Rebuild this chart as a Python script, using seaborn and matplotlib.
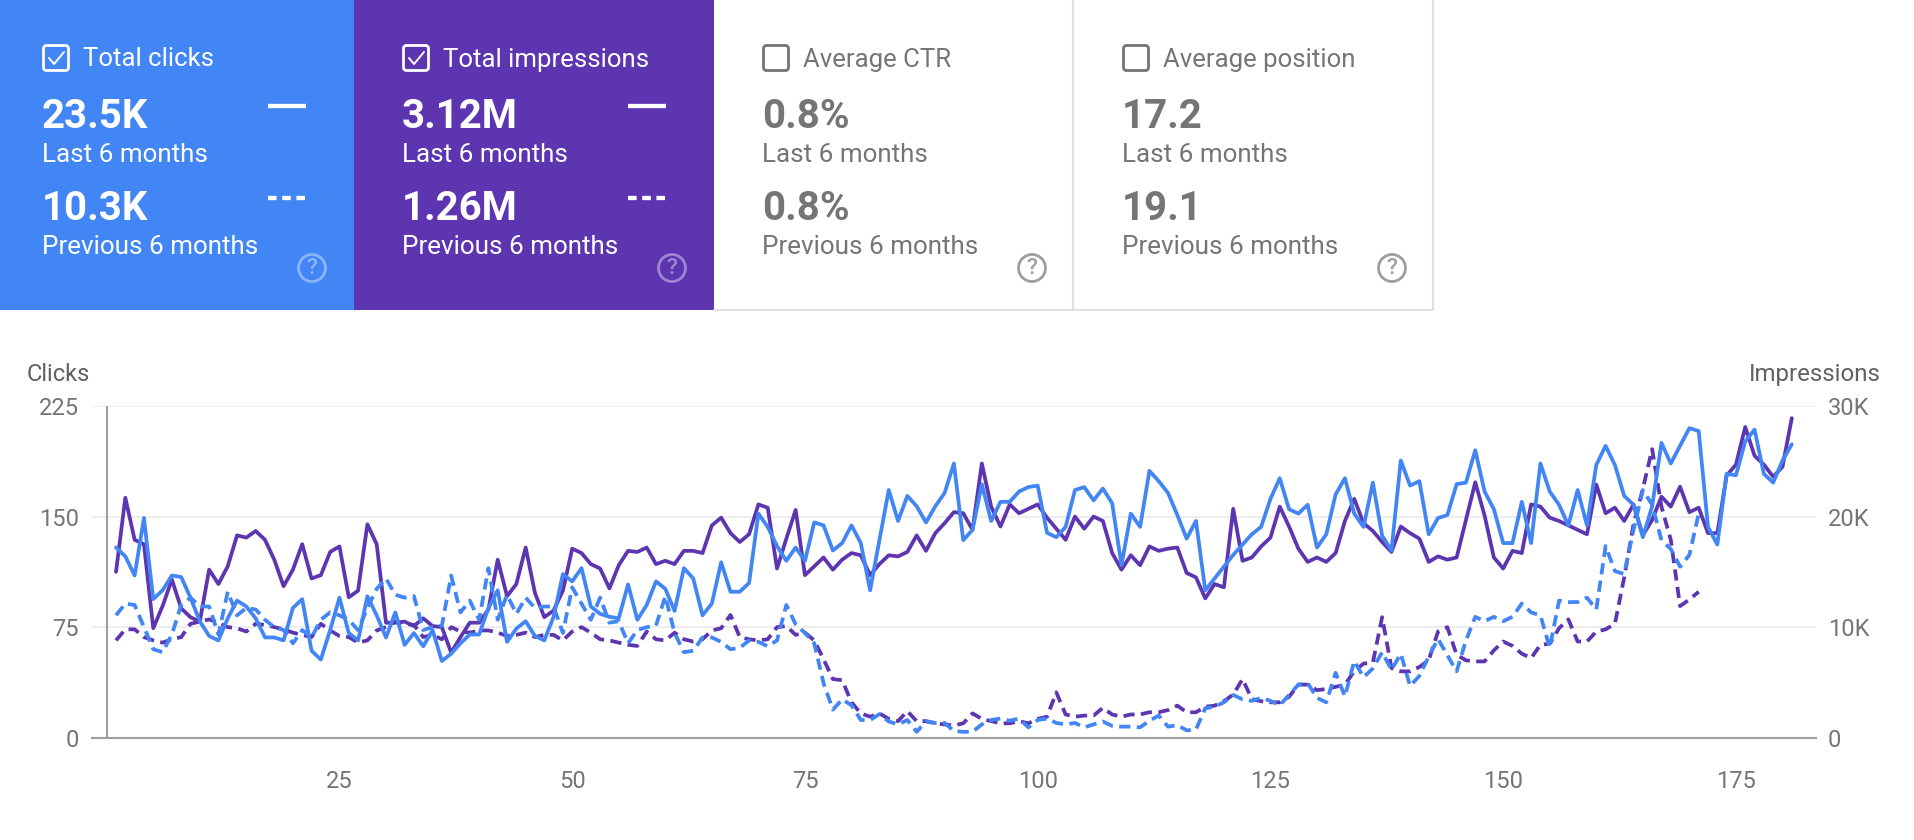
import numpy as np
import seaborn as sns
import matplotlib.pyplot as plt
from matplotlib.patches import Rectangle, FancyBboxPatch, Circle

# Daily clicks, last 6 months
clicks_last = [129,123,110,149,94,100,110,109,95,79,
    69,66,81,93,89,81,68,68,66,88,
    94,59,53,73,95,71,66,96,83,68,
    85,63,71,62,73,52,57,64,70,70,
    88,100,65,74,79,69,66,82,111,106,
    115,89,84,82,81,104,80,90,106,101,
    86,115,108,83,91,119,99,99,105,152,
    143,130,120,129,120,146,144,127,132,144,
    132,100,134,168,147,164,157,146,157,166,
    186,134,141,172,147,160,160,167,170,171,
    139,136,143,168,170,161,169,159,117,152,
    143,181,174,166,151,135,147,100,108,116,
    124,131,138,143,162,176,155,152,158,129,
    138,165,176,152,143,173,137,127,188,171,
    174,138,149,151,172,173,195,167,155,132,
    132,160,132,186,167,158,144,168,144,185,
    198,185,164,158,136,157,200,186,198,210,
    208,143,131,179,178,201,209,179,173,188,199]

# Daily clicks, previous 6 months
clicks_prev = [83,91,90,75,60,58,70,90,95,89,
    89,70,99,83,88,87,80,75,73,64,
    73,68,80,85,83,80,73,88,101,108,
    97,95,96,73,75,76,110,85,93,80,
    115,80,97,84,95,88,89,89,71,102,
    91,80,95,78,79,64,73,75,76,96,
    71,58,59,68,68,65,60,61,66,65,
    62,66,90,77,71,64,37,19,26,22,
    12,12,16,11,9,12,4,11,10,10,
    4.5,4,4,9,12,13,11.5,13,7,12,
    13,10,9,10,7,9,11,8,7.5,7.5,
    7,11.5,15,7.5,8.5,5,5.5,20,21,24,
    29,26,25,27,25,22,29,36,37,27,
    24,44,28,52,41,47,58,46,57,35,
    42,55,67,56,45,66,82,79,82,79,
    82,91,85,83,61,93,92,92,95,87,
    130,113,111,141,168,158,134,128,116,124,152]

# Daily impressions in thousands, last 6 months
impressions_last = [15.0,21.7,17.9,17.5,9.9,11.9,14.3,11.7,10.9,10.5,
    15.2,13.9,15.5,18.3,18.1,18.7,17.9,16.1,13.7,15.2,
    17.5,14.4,14.7,16.8,17.3,12.7,13.3,19.3,17.5,10.4,
    10.4,10.5,10.1,10.8,10.1,10.0,7.7,9.1,10.4,10.4,
    11.6,16.1,12.8,13.9,17.2,13.1,10.9,11.5,13.3,17.1,
    16.7,15.7,15.3,13.5,15.6,16.9,16.8,17.2,15.7,16.0,
    15.7,16.9,16.9,16.7,19.2,19.9,18.5,17.7,18.4,21.1,
    20.8,15.3,18.0,20.6,14.7,15.5,16.3,15.2,16.1,16.7,
    16.5,14.7,15.7,16.5,16.4,16.8,18.3,16.9,18.5,19.4,
    20.4,20.3,18.8,24.8,20.9,19.1,21.1,20.3,20.7,21.1,
    19.9,18.9,17.9,20.0,18.9,20.0,19.6,16.7,15.2,16.5,
    15.6,17.3,16.9,17.1,17.2,14.9,14.5,12.6,13.9,13.6,
    20.7,16.0,16.3,17.3,18.1,20.9,19.1,17.1,15.9,16.3,
    15.9,16.7,19.6,21.6,19.4,18.7,17.7,16.8,19.1,18.5,
    18.0,15.9,16.4,16.1,16.3,19.7,23.1,20.1,16.3,15.3,
    16.9,16.7,21.1,20.9,19.9,19.6,19.2,18.8,18.4,22.9,
    20.3,20.8,19.6,21.1,18.3,19.7,21.8,20.9,22.7,20.4,
    20.8,18.5,18.5,23.7,24.7,28.1,25.5,24.7,23.6,24.5,28.9]

# Daily impressions in thousands, previous 6 months
impressions_prev = [8.8,9.8,9.8,9.1,8.8,8.6,8.9,9.1,10.3,10.5,
    10.7,10.4,10.0,9.9,9.6,10.3,10.2,10.0,9.8,9.5,
    9.3,9.1,10.3,9.7,9.2,9.1,8.6,8.8,9.7,10.0,
    10.5,10.3,10.2,9.1,9.3,8.9,10.0,9.6,9.5,9.7,
    9.7,9.5,9.2,9.3,9.5,9.1,9.3,9.3,8.8,9.6,
    10.0,9.5,8.9,8.8,8.6,8.4,8.3,9.6,8.9,8.8,
    9.5,8.9,8.7,8.9,9.7,9.9,11.1,9.1,8.9,8.8,
    8.9,10.0,10.1,9.3,9.5,8.8,7.1,5.3,5.2,3.2,
    2.2,1.9,2.2,1.7,1.5,2.4,1.5,1.5,1.3,1.2,
    1.1,1.3,2.2,1.7,1.5,1.3,1.3,1.5,1.3,1.7,
    1.9,4.1,2.1,1.9,2.0,2.0,2.7,2.1,1.9,2.1,
    2.1,2.3,2.3,2.5,2.9,2.3,2.3,2.8,2.9,3.3,
    3.9,5.3,3.5,3.3,3.2,3.2,3.7,4.8,4.8,4.3,
    4.4,4.6,4.8,6.0,6.7,6.8,10.9,6.3,6.0,6.0,
    6.4,7.0,9.6,10.0,7.5,7.0,6.9,6.9,7.9,8.7,
    8.3,7.6,7.2,8.4,8.5,9.9,10.7,8.7,8.7,9.6,
    9.8,10.3,14.5,19.3,22.5,26.1,20.9,17.9,11.9,12.5,13.2]

card_titles = ['Total clicks', 'Total impressions', 'Average CTR', 'Average position']
card_last = ['23.5K', '3.12M', '0.8%', '17.2']
card_prev = ['10.3K', '1.26M', '0.8%', '19.1']
clicks_ticks = [0, 75, 150, 225]
impressions_ticks = [0, 10, 20, 30]
impressions_labels = ['0', '10K', '20K', '30K']
day_ticks = [25, 50, 75, 100, 125, 150, 175]

BLUE = '#4285f4'
PURPLE = '#5e35b1'
GREY = '#757575'
W, H = 1914, 840

sns.set_theme(style='white')
plt.rcParams['font.family'] = ['Roboto', 'DejaVu Sans']

fig = plt.figure(figsize=(W / 100, H / 100), dpi=100, facecolor='white')

# Overlay in pixel coordinates for the summary cards
bg = fig.add_axes([0, 0, 1, 1])
bg.set_xlim(0, W)
bg.set_ylim(H, 0)
bg.axis('off')

edges = [0, 354, 714, 1073, 1433]
fills = [BLUE, PURPLE, 'white', 'white']
for i, title in enumerate(card_titles):
    active = i < 2
    fg = 'white' if active else GREY
    left = 42 + 360 * i if i < 3 else 1122
    bg.add_patch(Rectangle((edges[i], 0), edges[i + 1] - edges[i], 310, color=fills[i], lw=0))

    # checkbox
    bg.add_patch(FancyBboxPatch((left + 1.5, 45.5), 25, 25, boxstyle='round,pad=0,rounding_size=3',
                                fc='none', ec=fg, lw=2.0))
    if active:
        bg.plot([left + 7, left + 12, left + 22], [58, 64, 52], color=fg, lw=1.4)

    bg.text(left + 41, 59.5, title, color=fg, fontsize=18.5, va='center', ha='left')
    bg.text(left, 117, card_last[i], color=fg, fontsize=29, fontweight='bold', va='center', ha='left')
    bg.text(left, 155.5, 'Last 6 months', color=fg, fontsize=18.7, va='center', ha='left')
    bg.text(left, 209, card_prev[i], color=fg, fontsize=29, fontweight='bold', va='center', ha='left')
    bg.text(left, 247.5, 'Previous 6 months', color=fg, fontsize=18.7, va='center', ha='left')

    # series key
    if active:
        bg.plot([left + 226, left + 264], [106, 106], color='white', lw=3.1, solid_capstyle='butt')
        bg.plot([left + 226, left + 263], [198, 198], color='white', lw=3.1,
                linestyle=(0, (2.0, 1.3)), dash_capstyle='butt')

    # help icon
    cx = left + 270
    icon = (1, 1, 1, 0.4) if active else '#9e9e9e'
    bg.add_patch(Circle((cx, 268), 13.5, fc='none', ec=icon, lw=2.0))
    bg.text(cx, 268, '?', color=icon, fontsize=16, fontweight='medium', ha='center', va='center')

# card borders
bg.plot([714, 1433], [309.5, 309.5], color='#e0e0e0', lw=1.5)
bg.plot([1073, 1073], [0, 309.5], color='#e0e0e0', lw=1.5)
bg.plot([1433, 1433], [0, 309.5], color='#e0e0e0', lw=1.5)

# Chart: impressions go underneath, clicks on the twin axes on top
ax_imp = fig.add_axes([92 / W, 1 - 737.7 / H, (1816 - 92) / W, (737.7 - 406) / H])
ax_imp.patch.set_alpha(0)
ax_clicks = ax_imp.twinx()

days = np.arange(1, len(clicks_last) + 1)
days_prev = np.arange(1, len(clicks_prev) + 1)
dash = (0, (3, 1.7))

sns.lineplot(x=days_prev, y=impressions_prev, ax=ax_imp, color=PURPLE, lw=2.7, linestyle=dash, errorbar=None)
sns.lineplot(x=days, y=impressions_last, ax=ax_imp, color=PURPLE, lw=2.7, errorbar=None)
sns.lineplot(x=days_prev, y=clicks_prev, ax=ax_clicks, color=BLUE, lw=2.7, linestyle=dash, errorbar=None)
sns.lineplot(x=days, y=clicks_last, ax=ax_clicks, color=BLUE, lw=2.7, errorbar=None)

xlim = (-1.58, 183.6)
ax_imp.set_xlim(xlim)
ax_clicks.set_xlim(xlim)
ax_imp.set_ylim(0, 30)
ax_clicks.set_ylim(0, 225)

ax_imp.yaxis.tick_right()
ax_imp.set_yticks(impressions_ticks)
ax_imp.set_yticklabels(impressions_labels)
ax_clicks.yaxis.tick_left()
ax_clicks.set_yticks(clicks_ticks)
ax_imp.set_xticks(day_ticks)
ax_imp.grid(axis='y', color='#eeeeee', lw=1.5)
ax_imp.set_axisbelow(True)
ax_clicks.grid(False)

ax_imp.tick_params(axis='y', length=0, pad=8.5, labelsize=17, labelcolor=GREY, labelright=True, labelleft=False)
ax_clicks.tick_params(axis='y', length=0, pad=9.5, labelsize=17, labelcolor=GREY, labelleft=True, labelright=False)
ax_imp.tick_params(axis='x', length=0, pad=23, labelsize=17, labelcolor=GREY)
ax_clicks.tick_params(axis='x', length=0, labelbottom=False)

for axis in (ax_imp, ax_clicks):
    axis.set_xlabel('')
    axis.set_ylabel('')
    for side in ('top', 'left', 'right', 'bottom'):
        axis.spines[side].set_visible(False)
ax_imp.spines['bottom'].set_visible(True)
ax_imp.spines['bottom'].set_color('#9e9e9e')
ax_imp.spines['bottom'].set_linewidth(1.5)
ax_imp.axvline(0, color='#9e9e9e', lw=1.5, zorder=1)

fig.text(27 / W, 1 - 374.5 / H, 'Clicks', color='#616161', fontsize=17, va='center', ha='left')
fig.text(1881 / W, 1 - 374.5 / H, 'Impressions', color='#616161', fontsize=17.3, va='center', ha='right')

fig.savefig('out.png', dpi=100)
